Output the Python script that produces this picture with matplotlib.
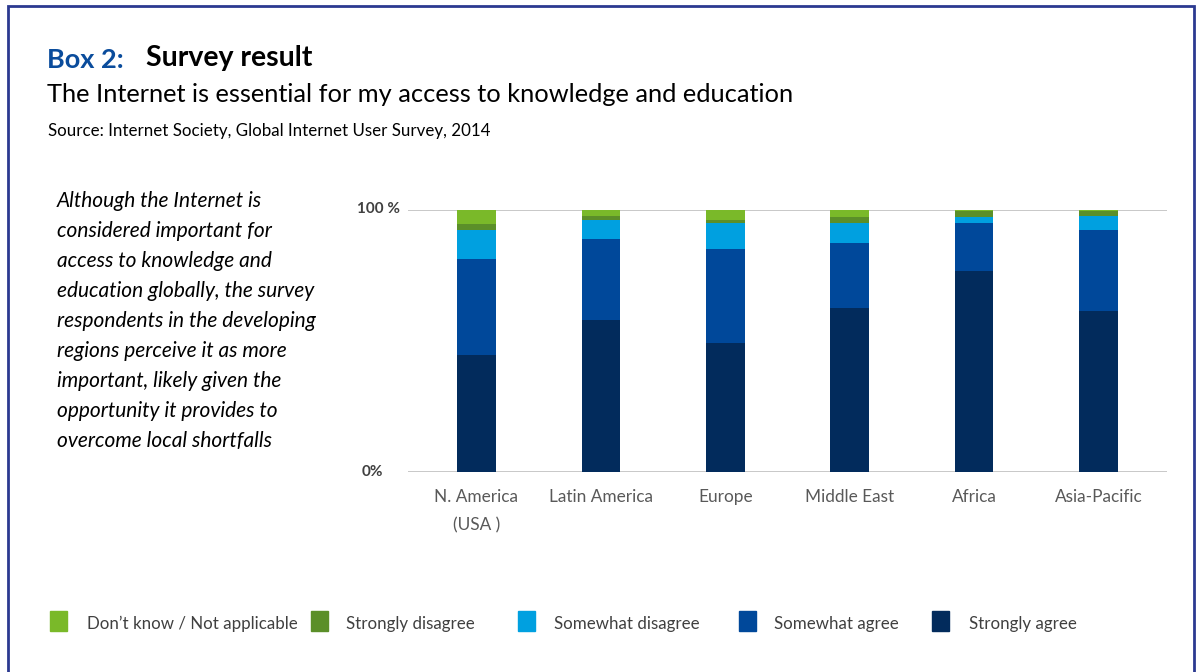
import numpy as np
import matplotlib.pyplot as plt
from matplotlib.patches import Rectangle

plt.rcParams['font.family'] = ['Lato', 'DejaVu Sans']

regions = ['N. America\n(USA )', 'Latin America', 'Europe', 'Middle East', 'Africa', 'Asia-Pacific']

# shares in percent, stacked from the bottom up
strongly_agree = [44.5, 58.0, 49.2, 62.6, 76.7, 61.5]
somewhat_agree = [36.8, 30.9, 35.9, 24.8, 18.3, 30.9]
somewhat_disagree = [11.1, 7.4, 9.9, 7.6, 2.3, 5.5]
strongly_disagree = [2.3, 1.4, 1.1, 2.3, 2.4, 1.8]
dont_know = [5.3, 2.3, 3.9, 2.7, 0.3, 0.3]

series = [
    ('Strongly agree', strongly_agree, '#022b5c'),
    ('Somewhat agree', somewhat_agree, '#00489a'),
    ('Somewhat disagree', somewhat_disagree, '#00a0e0'),
    ('Strongly disagree', strongly_disagree, '#5b8f29'),
    ('Don\u2019t know / Not applicable', dont_know, '#7ab929'),
]

W, H = 1200, 672
fig = plt.figure(figsize=(12, 6.72), dpi=100)

def px(x, y):
    # pixel position (from top-left) -> figure fraction
    return x / W, 1 - y / H

# box frame
fig.patches.append(Rectangle(px(8, 700), (1194 - 8) / W, (700 - 6) / H,
                             transform=fig.transFigure, fill=False,
                             edgecolor='#2b3990', linewidth=2))

# headings
fig.text(*px(47, 60), 'Box 2:', color='#0a4c9c', fontsize=19.5, fontweight='bold', va='center')
fig.text(*px(146, 58), 'Survey result', color='black', fontsize=20.5, fontweight='bold', va='center')
fig.text(*px(47, 94), 'The Internet is essential for my access to knowledge and education',
         fontsize=18.3, color='black', va='center')
fig.text(*px(48, 131), 'Source: Internet Society, Global Internet User Survey, 2014',
         fontsize=12.2, color='black', va='center')

note = ['Although the Internet is', 'considered important for', 'access to knowledge and',
        'education globally, the survey', 'respondents in the developing',
        'regions perceive it as more', 'important, likely given the',
        'opportunity it provides to', 'overcome local shortfalls']
for i, line in enumerate(note):
    fig.text(*px(57, 201 + 30 * i), line, fontsize=15, style='italic', color='black', va='center')

# chart
ax = fig.add_axes([408 / W, 1 - 472 / H, (1167 - 408) / W, (472 - 210) / H])
x = np.arange(len(regions))
bottom = np.zeros(len(regions))
for name, vals, col in series:
    ax.bar(x, vals, width=0.31, bottom=bottom, color=col, zorder=3)
    bottom += np.array(vals)

ax.set_xlim(-0.55, 5.55)
ax.set_ylim(0, 100)
for s in ax.spines.values():
    s.set_visible(False)
ax.axhline(0, color='#bfbfbf', linewidth=1.2, zorder=2)
ax.axhline(100, color='#bfbfbf', linewidth=1.2, zorder=2)
ax.set_yticks([])
ax.set_xticks(x)
ax.set_xticklabels(regions, fontsize=12.4, color='#595959', linespacing=1.95)
ax.tick_params(axis='x', length=0, pad=12)

ytr = ax.get_yaxis_transform()
ax.text(-0.011, 100.5, '100 %', transform=ytr, ha='right', va='center',
        fontsize=11, fontweight='bold', color='#404040')
ax.text(-0.033, 0, '0%', transform=ytr, ha='right', va='center',
        fontsize=11, fontweight='bold', color='#404040')

# legend
legend_items = [
    (50, 87, series[4]), (311, 346, series[3]), (518, 554, series[2]),
    (739, 774, series[1]), (932, 969, series[0]),
]
for sx, tx, (name, _, col) in legend_items:
    fig.patches.append(Rectangle(px(sx, 631), 17 / W, 20 / H,
                                 transform=fig.transFigure, color=col))
    fig.text(*px(tx, 624), name, fontsize=12.2, color='#404040', va='center')

fig.savefig('out.png', dpi=100)
